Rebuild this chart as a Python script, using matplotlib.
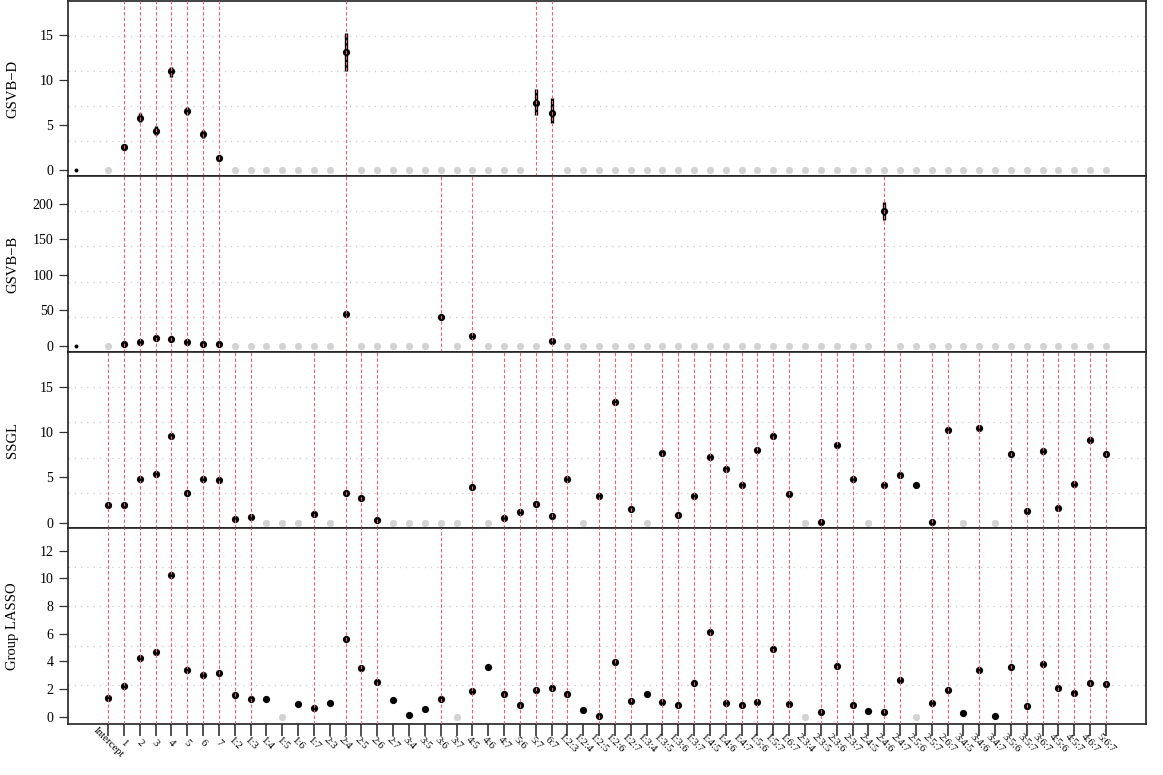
import numpy as np
import matplotlib.pyplot as plt

plt.rcParams['font.family'] = ['Liberation Serif', 'DejaVu Serif']

# group labels (intercept, main effects, 2-way and 3-way interactions)
labels = ['Intercept', '1', '2', '3', '4', '5', '6', '7',
          '1:2', '1:3', '1:4', '1:5', '1:6', '1:7', '2:3', '2:4', '2:5', '2:6', '2:7',
          '3:4', '3:5', '3:6', '3:7', '4:5', '4:6', '4:7', '5:6', '5:7', '6:7',
          '1:2:3', '1:2:4', '1:2:5', '1:2:6', '1:2:7', '1:3:4', '1:3:5', '1:3:6', '1:3:7',
          '1:4:5', '1:4:6', '1:4:7', '1:5:6', '1:5:7', '1:6:7', '2:3:4', '2:3:5', '2:3:6',
          '2:3:7', '2:4:5', '2:4:6', '2:4:7', '2:5:6', '2:5:7', '2:6:7', '3:4:5', '3:4:6',
          '3:4:7', '3:5:6', '3:5:7', '3:6:7', '4:5:6', '4:5:7', '4:6:7', '5:6:7']

# GSVB-D: estimates and intervals (only nonzero groups)
gsvbd_groups = ['1', '2', '3', '4', '5', '6', '7', '2:4', '5:7', '6:7']
gsvbd_est = [2.56, 5.78, 4.37, 10.96, 6.6, 4.0, 1.33, 13.1, 7.4, 6.3]
gsvbd_lo = [2.2, 5.3, 3.9, 10.4, 6.1, 3.6, 0.96, 11.0, 6.1, 5.2]
gsvbd_hi = [2.9, 6.3, 4.9, 11.5, 7.0, 4.4, 1.67, 15.2, 9.0, 8.0]

# GSVB-B
gsvbb_groups = ['1', '2', '3', '4', '5', '6', '7', '2:4', '3:6', '4:5', '6:7', '2:4:6']
gsvbb_est = [2.4, 4.8, 10.4, 9.5, 4.8, 2.8, 2.4, 44.8, 40.5, 13.7, 6.6, 189.3]
gsvbb_lo = [1.5, 3.8, 9.0, 8.2, 3.8, 1.9, 1.5, 43.0, 37.5, 12.0, 5.4, 176.5]
gsvbb_hi = [3.3, 5.8, 11.8, 10.8, 5.8, 3.7, 3.3, 46.5, 43.5, 15.5, 7.8, 202.0]

# SSGL estimates for all groups
ssgl = [1.93, 2.0, 4.82, 5.33, 9.56, 3.27, 4.86, 4.67,
        0.41, 0.63, 0, 0, 0, 1.0, 0, 3.33, 2.74, 0.32, 0,
        0, 0, 0, 0, 3.89, 0, 0.52, 1.19, 2.11, 0.74,
        4.78, 0, 3.0, 13.33, 1.56, 0, 7.7, 0.85, 3.0,
        7.26, 5.93, 4.11, 8.0, 9.56, 3.22, 0, 0.08, 8.6,
        4.78, 0, 4.19, 5.3, 4.11, 0.04, 10.19, 0, 10.41,
        0, 7.56, 1.26, 7.89, 1.67, 4.3, 9.19, 7.56]
ssgl_sel = [v != 0 for v in ssgl]
ssgl_sel[labels.index('2:5:6')] = False

# Group LASSO estimates for all groups
glasso = [1.37, 2.23, 4.24, 4.70, 10.27, 3.38, 3.02, 3.16,
          1.56, 1.32, 1.27, 0, 0.89, 0.65, 0.98, 5.63, 3.53, 2.49, 1.18,
          0.14, 0.57, 1.29, 0, 1.85, 3.57, 1.63, 0.86, 1.9, 2.08,
          1.63, 0.5, 0.07, 3.98, 1.13, 1.68, 1.06, 0.84, 2.44,
          6.13, 1.01, 0.82, 1.05, 4.89, 0.94, 0, 0.38, 3.69,
          0.82, 0.41, 0.38, 2.68, 0, 1.03, 1.97, 0.29, 3.38,
          0.03, 3.62, 0.75, 3.79, 2.11, 1.72, 2.47, 2.37]
glasso_unsel = ['1:4', '1:5', '1:6', '2:3', '2:7', '3:4', '3:5', '3:7', '4:6',
                '1:2:4', '1:3:4', '2:3:4', '2:4:5', '2:5:6', '3:4:5', '3:4:7']
glasso_sel = [lab not in glasso_unsel for lab in labels]

x = np.arange(len(labels))
red = '#e8607a'
grey = '#d3d3d3'


def full(groups, vals):
    out = np.zeros(len(labels))
    for g, v in zip(groups, vals):
        out[labels.index(g)] = v
    return out


fig = plt.figure(figsize=(11.63, 7.75), dpi=100)
gs = fig.add_gridspec(4, 1, height_ratios=[175, 176, 176, 196], hspace=0,
                      left=68/1163, right=1146/1163, top=1-1/775, bottom=1-724/775)
axes = [fig.add_subplot(gs[i]) for i in range(4)]

panels = [
    ('GSVB\u2212D', full(gsvbd_groups, gsvbd_est), full(gsvbd_groups, gsvbd_lo),
     full(gsvbd_groups, gsvbd_hi), None, (-0.67, 18.8), [0, 5, 10, 15], True),
    ('GSVB\u2212B', full(gsvbb_groups, gsvbb_est), full(gsvbb_groups, gsvbb_lo),
     full(gsvbb_groups, gsvbb_hi), None, (-8.9, 239), [0, 50, 100, 150, 200], True),
    ('SSGL', np.array(ssgl), None, None, ssgl_sel, (-0.59, 18.86), [0, 5, 10, 15], False),
    ('Group LASSO', np.array(glasso), None, None, glasso_sel, (-0.52, 13.63),
     [0, 2, 4, 6, 8, 10, 12], False),
]

for ax, (name, est, lo, hi, sel, ylim, yt, tiny) in zip(axes, panels):
    if sel is None:
        sel = est != 0
    sel = np.array(sel)
    nz = est != 0

    # dotted grid: 4 lines splitting the panel evenly
    for k in range(1, 5):
        ax.axhline(ylim[0] + k * (ylim[1] - ylim[0]) / 5, color='#cccccc',
                   lw=0.9, ls=(0, (1, 4)), zorder=0)

    ax.plot(x[~nz], est[~nz], 'o', ms=5.2, color=grey, mec='none', zorder=2)
    if lo is not None:
        ax.vlines(x[nz], lo[nz], hi[nz], color='black', lw=2.4, zorder=3)
    ax.plot(x[nz], est[nz], 'o', ms=5.2, color='black', mec='none', zorder=4)
    if tiny:
        ax.plot([-2], [0], 'o', ms=1.8, color='black')

    for xi in x[sel]:
        ax.axvline(xi, color=red, lw=0.8, ls=(0, (3, 2)), zorder=5)

    ax.set_xlim(-2.53, 65.53)
    ax.set_ylim(*ylim)
    ax.set_yticks(yt)
    ax.tick_params(axis='y', direction='out', length=6.5, width=0.9, pad=4,
                   labelsize=10, color='#333333')
    ax.set_ylabel(name, fontsize=10.5)
    ax.yaxis.set_label_coords(-0.0455, 0.5)
    for s in ax.spines.values():
        s.set_linewidth(1.2)
        s.set_color('#222222')
    if ax is not axes[-1]:
        ax.set_xticks([])

axes[-1].set_xticks(x)
axes[-1].set_xticklabels(labels, rotation=-45, ha='center', va='center',
                         fontsize=7.8)
axes[-1].tick_params(axis='x', direction='out', length=8.6, width=1.2,
                     color='#333333', pad=5)

fig.savefig('out.png', dpi=100)
